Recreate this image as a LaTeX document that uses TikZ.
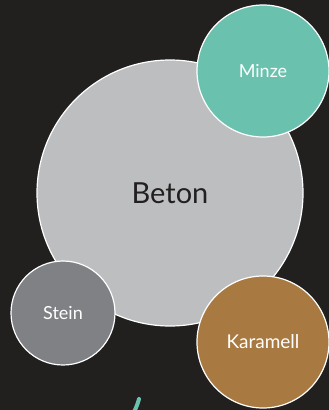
\documentclass[tikz,border=0pt]{standalone}
\usepackage{fontspec}
\setmainfont{Lato}
\definecolor{bg}{HTML}{221F1F}
\definecolor{beton}{HTML}{BCBEC0}
\definecolor{minze}{HTML}{6AC2AE}
\definecolor{stein}{HTML}{808185}
\definecolor{karamell}{HTML}{A87A42}
\definecolor{darktext}{HTML}{231F20}
\begin{document}
\begin{tikzpicture}[x=1pt,y=-1pt,
  bubble/.style={circle, draw=white, line width=1.2pt, inner sep=0pt, text=white}]
\fill[bg] (0,0) rectangle (329,410);
\useasboundingbox (0,0) rectangle (329,410);
\node[bubble, fill=beton, minimum size=266pt, text=darktext, font=\fontsize{29}{33}\selectfont] (beton) at (170,193) {Beton};
\node[bubble, fill=minze, minimum size=132pt, font=\fontsize{18}{21}\selectfont] (minze) at (263,71) {Minze};
\node[bubble, fill=stein, minimum size=104pt, font=\fontsize{18}{21}\selectfont] (stein) at (63,313) {Stein};
\node[bubble, fill=karamell, minimum size=132pt, font=\fontsize{19}{22}\selectfont] (karamell) at (263,342) {Karamell};
\coordinate (s1) at (139,399);
\coordinate (s2) at (134,412);
\draw[minze, line width=4pt, line cap=round] (s1) to[bend left=5] (s2);
\end{tikzpicture}
\end{document}
